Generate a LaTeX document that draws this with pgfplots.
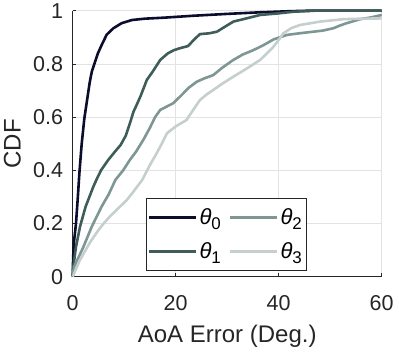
\documentclass[border=0pt]{standalone}
\usepackage{pgfplots}
\pgfplotsset{compat=1.18}
\usepackage{fontspec}
\setmainfont{Liberation Sans}

\definecolor{axiscol}{HTML}{262626}
\definecolor{gridcol}{HTML}{E3E3E3}
\definecolor{cA}{HTML}{0C0C2C}
\definecolor{cB}{HTML}{3E5D59}
\definecolor{cC}{HTML}{7E9694}
\definecolor{cD}{HTML}{C4CFCE}

% theta with a MATLAB-like lowered subscript
\newcommand{\thsub}[1]{\textit{θ}\raisebox{-5bp}{\fontsize{17}{17}\selectfont #1}}

\begin{document}
\begin{tikzpicture}
  \useasboundingbox (-72.7bp,-76.3bp) rectangle (326.3bp,276.7bp);
  \begin{axis}[
      at={(0,0)}, anchor=south west,
      scale only axis,
      width=309bp, height=266bp,
      xmin=0, xmax=60, ymin=0, ymax=1,
      xtick={0,20,40,60},
      ytick={0,0.2,0.4,0.6,0.8,1},
      axis x line*=bottom, axis y line*=left,
      axis line style={axiscol, line width=0.7bp, -},
      tick align=inside,
      major tick length=3.3bp,
      tick style={axiscol, line width=0.7bp},
      grid=major,
      major grid style={gridcol, line width=0.6bp},
      clip=false,
      font=\fontsize{21.5bp}{24bp}\selectfont,
      /pgf/number format/assume math mode=true,
      xticklabel style={anchor=base, inner sep=0pt, yshift=-33.3bp, text=axiscol},
      yticklabel style={anchor=east, inner sep=0pt, xshift=-9.4bp, text=axiscol},
      xlabel={AoA Error (Deg.)},
      ylabel={CDF},
      label style={font=\fontsize{24bp}{28bp}\selectfont, text=axiscol},
      xlabel style={at={(rel axis cs:0.5,0)}, anchor=base, yshift=-66bp},
      ylabel style={at={(axis description cs:-0.195,0.5)}, anchor=center},
      legend columns=2, transpose legend,
      legend style={
        at={(axis description cs:0.236,0.0226)}, anchor=south west,
        draw=axiscol, line width=0.7bp, fill=white,
        inner xsep=2bp, inner ysep=8bp,
        font=\fontsize{22bp}{26bp}\selectfont,
        row sep=13bp,
        /tikz/every even column/.append style={column sep=6bp},
      },
      legend cell align=left,
      legend image code/.code={\draw[#1] (0bp,0bp) -- (47bp,0bp);},
      every axis plot/.append style={line width=2.6bp, line join=round},
    ]
    \addplot[cA] coordinates {
      (0,0) (0.1,0.08) (0.3,0.14) (0.64,0.2) (1.0,0.3) (1.3,0.39) (1.75,0.5)
      (2.26,0.595) (2.84,0.67) (3.3,0.73) (3.7,0.77) (4.2,0.80) (4.9,0.84)
      (5.6,0.87) (6.6,0.91) (7.9,0.934) (9.5,0.953) (11.5,0.965) (14,0.97)
      (17.9,0.974) (23.4,0.981) (30,0.988) (36.4,0.994) (42,0.998) (46,1) (60,1)
    };
    \addlegendentry{\thsub{0}}
    \addplot[cB] coordinates {
      (0,0.02) (0.64,0.113) (1.42,0.188) (2.5,0.263) (4.0,0.338) (4.6,0.364)
      (5.5,0.40) (6.9,0.439) (8.2,0.47) (9.3,0.495) (10.3,0.53) (11.0,0.57)
      (11.8,0.62) (12.4,0.645) (13.2,0.68) (14.0,0.72) (14.4,0.74) (15.5,0.77)
      (17.0,0.815) (17.3,0.82) (18.5,0.84) (19.7,0.852) (21,0.86) (22.4,0.867)
      (23.5,0.89) (24.7,0.912) (26.5,0.915) (28,0.921) (30,0.945) (31.2,0.959)
      (33.5,0.97) (36.4,0.984) (40,0.99) (42.8,0.996) (47,1) (60,1)
    };
    \addlegendentry{\thsub{1}}
    \addplot[cC] coordinates {
      (0,0.01) (0.3,0.038) (2.1,0.113) (3.7,0.188) (5.6,0.263) (7,0.31)
      (8.3,0.364) (9.8,0.40) (11.1,0.439) (12.3,0.47) (13.7,0.514) (15,0.56)
      (16,0.60) (17,0.627) (19.5,0.652) (21,0.68) (22.5,0.71) (24.1,0.733)
      (25.5,0.745) (27.3,0.758) (29,0.785) (31.2,0.815) (33,0.835) (35.1,0.852)
      (37,0.87) (39,0.892) (41.6,0.909) (44,0.915) (46.7,0.921) (48.5,0.925)
      (50.6,0.934) (52,0.945) (53.2,0.953) (55.8,0.968) (58,0.975) (60,0.984)
    };
    \addlegendentry{\thsub{2}}
    \addplot[cD] coordinates {
      (0,0) (1.4,0.063) (3.4,0.13) (4.8,0.17) (6,0.2) (7.2,0.226) (9,0.26)
      (10.5,0.288) (12,0.325) (13.5,0.364) (15,0.42) (16.3,0.464) (17.3,0.5)
      (18.3,0.539) (20,0.565) (22.1,0.589) (23.5,0.63) (24.7,0.664) (26,0.685)
      (27.3,0.702) (29,0.725) (31.2,0.752) (34,0.785) (36.4,0.815) (38,0.845)
      (39,0.865) (40,0.89) (40.9,0.915) (42.5,0.935) (44.1,0.946) (48,0.959)
      (52.5,0.968) (56,0.97) (60,0.971)
    };
    \addlegendentry{\thsub{3}}
  \end{axis}
\end{tikzpicture}
\end{document}
